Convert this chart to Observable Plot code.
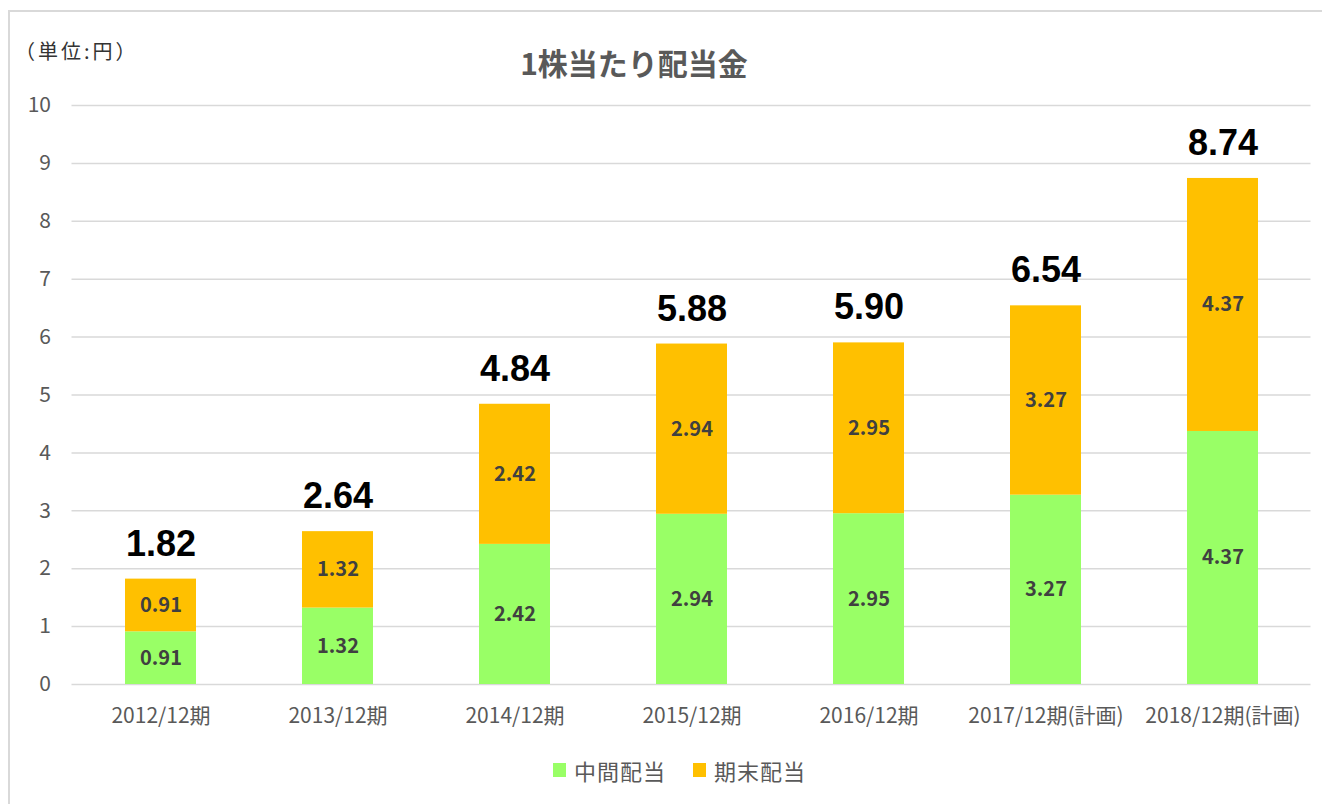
<!DOCTYPE html>
<html>
<head>
<meta charset="utf-8">
<script src="https://cdn.jsdelivr.net/npm/d3@7"></script>
<script src="https://cdn.jsdelivr.net/npm/@observablehq/plot@0.6"></script>
<style>
  html, body { margin: 0; padding: 0; background: #fff; }
  body { font-family: "Noto Sans CJK JP", "Noto Sans", sans-serif; }
  #wrap { position: relative; width: 1322px; height: 804px; overflow: hidden; }
  #frame { position: absolute; left: 8px; top: 10px; width: 1330px; height: 820px; border: 2px solid #d9d9d9; box-sizing: border-box; }
  #unit { position: absolute; left: 15px; top: 36px; font-size: 20px; color: #333; white-space: nowrap; letter-spacing: 3px; }
  #title { position: absolute; left: 0; width: 1268px; top: 40px; text-align: center; font-size: 30px; font-weight: bold; color: #595959; white-space: nowrap; }
  #chart { position: absolute; left: 0; top: 80px; }
  #legend { position: absolute; left: 553px; top: 754px; display: flex; gap: 27px; font-size: 22px; color: #595959; letter-spacing: 1px; white-space: nowrap; }
  .li { display: flex; align-items: center; gap: 8px; }
  .sw { width: 13px; height: 14px; display: inline-block; }
</style>
</head>
<body>
<div id="wrap">
  <div id="frame"></div>
  <div id="unit">（単位:円）</div>
  <div id="title">1株当たり配当金</div>
  <div id="chart"></div>
  <div id="legend"></div>
</div>
<script>
const categories = ["2012/12期", "2013/12期", "2014/12期", "2015/12期", "2016/12期", "2017/12期(計画)", "2018/12期(計画)"];
const interim = [0.91, 1.32, 2.42, 2.94, 2.95, 3.27, 4.37];
const yearEnd = [0.91, 1.32, 2.42, 2.94, 2.95, 3.27, 4.37];
const totals = [1.82, 2.64, 4.84, 5.88, 5.90, 6.54, 8.74];
const seriesNames = ["中間配当", "期末配当"];
const seriesColors = ["#99FF66", "#FFC000"];
const yTicks = [0, 1, 2, 3, 4, 5, 6, 7, 8, 9, 10];

const rows = [];
categories.forEach((c, i) => {
  rows.push({cat: c, series: seriesNames[0], value: interim[i], y1: 0, y2: interim[i]});
  rows.push({cat: c, series: seriesNames[1], value: yearEnd[i], y1: interim[i], y2: interim[i] + yearEnd[i]});
});
const totalRows = categories.map((c, i) => ({cat: c, total: totals[i]}));

const plot = Plot.plot({
  width: 1322,
  height: 654,
  marginLeft: 71.5,
  marginRight: 11.5,
  marginTop: 25,
  marginBottom: 50,
  style: { fontFamily: "'Noto Sans CJK JP', 'Noto Sans', sans-serif", background: "transparent" },
  x: { domain: categories, paddingInner: 0.6, paddingOuter: 0.3, label: null },
  y: { domain: [0, 10], label: null },
  color: { domain: seriesNames, range: seriesColors },
  marks: [
    Plot.gridY(yTicks, { stroke: "#d9d9d9", strokeOpacity: 1, strokeWidth: 1.5 }),
    Plot.axisY(yTicks, { tickSize: 0, tickPadding: 21, fontSize: 21, fill: "#595959", label: null, tickFormat: d => String(d) }),
    Plot.axisX({ tickSize: 0, tickPadding: 24, fontSize: 21, fill: "#595959", label: null }),
    Plot.rectY(rows, { x: "cat", y1: "y1", y2: "y2", fill: "series" }),
    Plot.text(rows, { x: "cat", y: d => (d.y1 + d.y2) / 2, text: d => d.value.toFixed(2), fontSize: 20, fontWeight: "bold", fill: "#404040" }),
    Plot.text(totalRows, { x: "cat", y: "total", text: d => d.total.toFixed(2), dy: -35, fontSize: 36, fontWeight: "bold", fill: "#000", fontFamily: "'Liberation Sans', Arial, sans-serif" })
  ]
});
document.getElementById("chart").appendChild(plot);

const legend = document.getElementById("legend");
seriesNames.forEach((n, i) => {
  const li = document.createElement("div");
  li.className = "li";
  const sw = document.createElement("span");
  sw.className = "sw";
  sw.style.background = seriesColors[i];
  const t = document.createElement("span");
  t.textContent = n;
  li.appendChild(sw);
  li.appendChild(t);
  legend.appendChild(li);
});
</script>
</body>
</html>
